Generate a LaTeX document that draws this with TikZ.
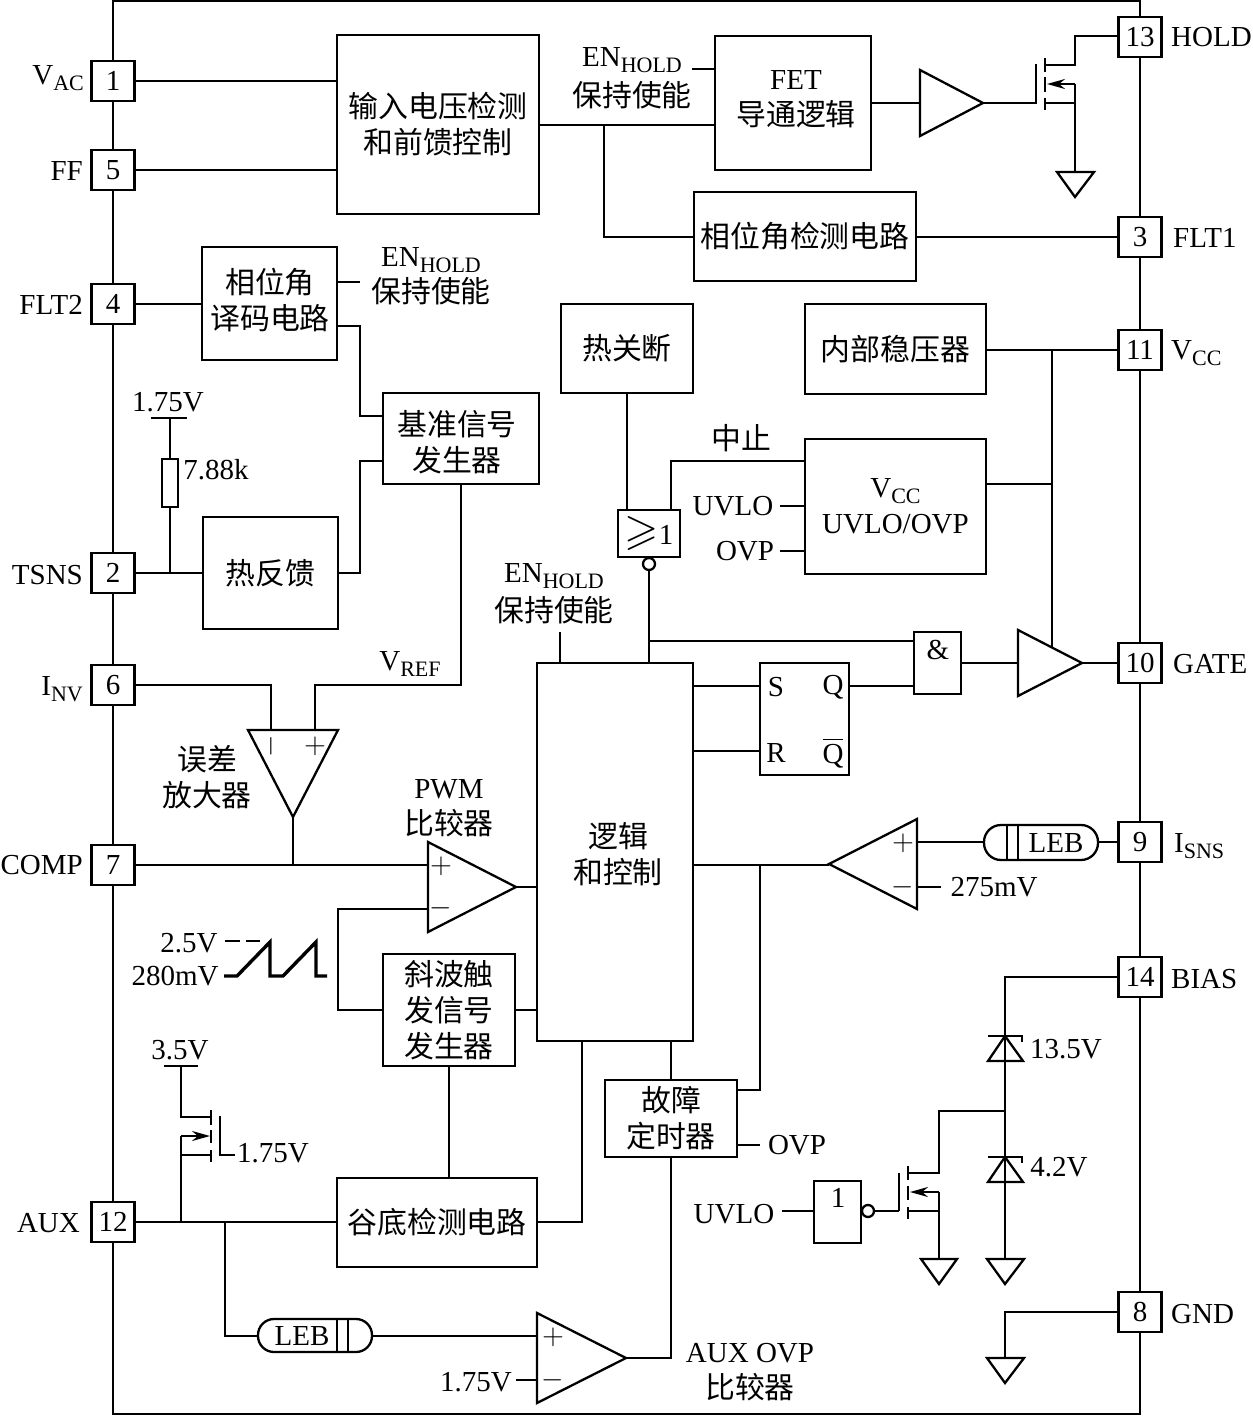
\documentclass[tikz,border=0pt]{standalone}
\usepackage{amsmath}
\usepackage{amssymb}
\usepackage{fontspec}
\usetikzlibrary{arrows.meta}
\setmainfont{Liberation Serif}
\newfontfamily\cjk[Scale=1.03]{Noto Sans CJK SC}
\newcommand{\sbx}[1]{\raisebox{-3pt}{\fontsize{11}{11}\selectfont #1}}
\tikzset{
  txt/.style={font=\fontsize{14.5}{18}\selectfont,align=center,inner sep=0pt},
  box/.style args={#1 by #2}{draw,fill=white,txt,minimum width=#1*0.5pt,minimum height=#2*0.5pt},
  pinbox/.style={box={43 by 40}},
  thin line/.style={line width=0.7pt},
  fat line/.style={line width=1.7pt},
  fet arrow/.style={-{Stealth[length=9pt,width=5pt,inset=3pt]}}
}

\begin{document}
\begin{tikzpicture}[x=0.5pt,y=-0.5pt,line width=1.15pt,every node/.style={txt}]
  \useasboundingbox (0,0) rectangle (1252,1416);
  \draw (113,1) rectangle (1140,1414);

  % pins on the left
  \path (113,81) node[pinbox] (p1) {1};
  \path (113,170) node[pinbox] (p5) {5};
  \path (113,304) node[pinbox] (p4) {4};
  \path (113,573) node[pinbox] (p2) {2};
  \path (113,685) node[pinbox] (p6) {6};
  \path (113,865) node[pinbox] (p7) {7};
  \path (113,1222) node[pinbox] (p12) {12};
  \path (85,85) node[anchor=base east] (lvac) {V\sbx{AC}};
  \path (84,181) node[anchor=base east] (lff) {FF};
  \path (84,315) node[anchor=base east] (lflt2) {FLT2};
  \path (84,584) node[anchor=base east] (ltsns) {TSNS};
  \path (84,695) node[anchor=base east] (linv) {I\sbx{NV}};
  \path (84,874) node[anchor=base east] (lcomp) {COMP};
  \path (81,1232) node[anchor=base east] (laux) {AUX};

  % pins on the right
  \path (1140,37) node[pinbox] (p13) {13};
  \path (1140,237) node[pinbox] (p3) {3};
  \path (1140,350) node[pinbox] (p11) {11};
  \path (1140,663) node[pinbox] (p10) {10};
  \path (1140,842) node[pinbox] (p9) {9};
  \path (1140,977) node[pinbox] (p14) {14};
  \path (1140,1312) node[pinbox] (p8) {8};
  \path (1170,47) node[anchor=base west] (lhold) {HOLD};
  \path (1172,248) node[anchor=base west] (lflt1) {FLT1};
  \path (1170,360) node[anchor=base west] (lvcc) {V\sbx{CC}};
  \path (1172,673) node[anchor=base west] (lgate) {GATE};
  \path (1173,852) node[anchor=base west] (lisns) {I\sbx{SNS}};
  \path (1170,988) node[anchor=base west] (lbias) {BIAS};
  \path (1170,1323) node[anchor=base west] (lgnd) {GND};

  % blocks
  \path (438,124.5) node[box={202 by 179}] (inp) {{\cjk 输入电压检测}\\{\cjk 和前馈控制}};
  \path (793,103) node[box={156 by 134}] (fet) {};
  \path (796,99) node (lfet) {FET\\{\cjk 导通逻辑}};
  \path (805,236.5) node[box={222 by 89}] (phase) {\cjk 相位角检测电路};
  \path (269.5,303.5) node[box={135 by 113}] (dec) {};
  \path (270,300) node (ldec) {{\cjk 相位角}\\{\cjk 译码电路}};
  \path (461,438.5) node[box={156 by 91}] (vref) {};
  \path (457,442) node (lvrefb) {{\cjk 基准信号}\\{\cjk 发生器}};
  \path (270.5,573) node[box={135 by 112}] (fb) {\cjk 热反馈};
  \path (627,348.5) node[box={132 by 89}] (shut) {\cjk 热关断};
  \path (895.5,349) node[box={181 by 90}] (reg) {\cjk 内部稳压器};
  \path (895.5,506.5) node[box={181 by 135}] (uvlo) {V\sbx{CC}\\UVLO/OVP};
  \path (649,533.5) node[box={62 by 47}] (nor) {{\fontsize{22}{22}\selectfont$\geqslant$}1};
  \path (649,564) node[draw,circle,fill=white,minimum size=6pt] (norb) {};
  \path (615,852) node[box={156 by 378}] (logic) {};
  \path (618,854) node (llogic) {{\cjk 逻辑}\\{\cjk 和控制}};
  \path (937.5,663) node[box={47 by 62}] (and) {};
  \path (938,650) node (andl) {\&};
  \path (804.5,719) node[box={89 by 112}] (sr) {};
  \path (776,687) node (ls) {S};
  \path (833,687) node (lq) {Q};
  \path (776,753) node (lr) {R};
  \path (833,753) node (lqb) {$\overline{\mbox{Q}}$};
  \path (449,1010) node[box={132 by 112}] (ramp) {{\cjk 斜波触}\\{\cjk 发信号}\\{\cjk 发生器}};
  \path (671,1118.5) node[box={132 by 77}] (timer) {{\cjk 故障}\\{\cjk 定时器}};
  \path (437,1222.5) node[box={200 by 89}] (valley) {\cjk 谷底检测电路};
  \path (837.5,1212) node[box={47 by 62}] (inv) {};
  \path (838,1198) node (linv1) {1};
  \path (868,1211) node[draw,circle,fill=white,minimum size=6pt] (invb) {};

  % amplifiers
  \draw (920,70) --(983,103) --(920,136) --cycle;
  \coordinate (bufa) at (920,103);
  \coordinate (bufb) at (983,103);
  \draw (1018,630) --(1082,663) --(1018,696) --cycle;
  \coordinate (drva) at (1018,663);
  \coordinate (drvb) at (1082,663);
  \coordinate (drvc) at (1052,647);
  \draw (248,730) --(338,730) --(293,817) --cycle;
  \coordinate (erra) at (271,730);
  \coordinate (errb) at (315,730);
  \coordinate (errc) at (293,817);
  \path (271,746) node[rotate=90] (lerrm) {$-$};
  \path (315,746) node (lerrp) {$+$};
  \draw (428,842) --(516,887) --(428,932) --cycle;
  \coordinate (pwma) at (428,865);
  \coordinate (pwmb) at (428,909);
  \coordinate (pwmc) at (516,887);
  \path (441,866) node (lpwmp) {$+$};
  \path (441,908) node (lpwmm) {$-$};
  \draw (917,819) --(829,864) --(917,909) --cycle;
  \coordinate (csa) at (917,842);
  \coordinate (csb) at (917,887);
  \coordinate (csc) at (829,865);
  \path (903,843) node (lcsp) {$+$};
  \path (903,887) node (lcsm) {$-$};
  \draw (537,1313) --(626,1358) --(537,1403) --cycle;
  \coordinate (ovpa) at (537,1336);
  \coordinate (ovpb) at (537,1380);
  \coordinate (ovpc) at (626,1358);
  \path (553,1337) node (lovpp) {$+$};
  \path (553,1380) node (lovpm) {$-$};

  % LEB blocks
  \path (1041,842.5) node[draw,fill=white,rounded corners=8.5pt,minimum width=57pt,minimum height=17.5pt] (lebr) {};
  \draw[thin line] (1007,825) --(1007,860);
  \draw[thin line] (1018,825) --(1018,860);
  \path (1056,843) node (llebr) {LEB};
  \path (315,1335.5) node[draw,fill=white,rounded corners=8pt,minimum width=57pt,minimum height=16.5pt] (lebl) {};
  \draw[thin line] (337,1319) --(337,1352);
  \draw[thin line] (348,1319) --(348,1352);
  \path (302,1336) node (llebl) {LEB};

  % wires around the input block
  \draw (p1.east) --(inp.west |- p1.east);
  \draw (p5.east) --(inp.west |- p5.east);
  \coordinate (inpo) at (inp.east |- 539,125);
  \coordinate (inpj) at (604,125);
  \draw (inpo) --(fet.west |- inpo);
  \draw (inpj) |- (phase.west |- p3.west);
  \draw (phase.east |- p3.west) --(p3.west);
  \coordinate (enfet) at (692,69);
  \draw (enfet) --(fet.west |- enfet);
  \path (632,78) node (lenfet) {EN\sbx{HOLD}\\[2pt]{\cjk 保持使能}};
  \draw (fet.east) --(bufa);

  % first mosfet
  \coordinate (qag) at (1036,64);
  \coordinate (qad) at (1045,65);
  \coordinate (qas) at (1045,103);
  \coordinate (qaj) at (1075,84);
  \coordinate (qaf) at (1075,172);
  \draw (bufb) --(qag |- bufb) --(qag);
  \draw (1045,58) --(1045,72);
  \draw (1045,77) --(1045,92);
  \draw (1045,98) --(1045,110);
  \draw (qad) -| (1075,36) --(p13.west |- 1075,36);
  \draw (qas) --(1075,103);
  \draw[fet arrow] (qaj) --(1047,84);
  \draw (qaj) --(qaf);
  \draw (1057,172) --(1094,172) --(1075,197) --cycle;

  % reference path
  \draw (p4.east) --(dec.west |- p4.east);
  \coordinate (endec) at (360,282);
  \draw (dec.east |- endec) --(endec);
  \path (431,276) node (lendec) {EN\sbx{HOLD}\\{\cjk 保持使能}};
  \coordinate (deco) at (337,326);
  \coordinate (refa) at (383,416);
  \coordinate (refb) at (383,461);
  \draw (deco) -| (360,416) --(refa);
  \draw (refb) -| (360,573) --(fb.east);
  \draw (p2.east) --(fb.west);
  \coordinate (rj) at (170,573);
  \path (170,483) node[draw,minimum width=8pt,minimum height=24pt] (rt) {};
  \coordinate (rtop) at (170,418);
  \draw (rj) --(rt.south);
  \draw (rt.north) --(rtop);
  \draw (151,418) --(187,418);
  \path (168,402) node (lvtop) {1.75V};
  \path (216,470) node (lrt) {7.88k};

  % error amp and pwm comparator
  \draw (p6.east) -| (erra);
  \draw (vref.south) |- (errb |- 461,685) --(errb);
  \path (410,664) node (lvref) {V\sbx{REF}};
  \path (207,777) node (lerr) {{\cjk 误差}\\{\cjk 放大器}};
  \draw (errc) --(293,865);
  \draw (p7.east) --(pwma);
  \path (449,808) node (lpwm) {PWM\\{\cjk 比较器}};
  \draw (pwmc) --(logic.west |- pwmc);
  \draw (pwmb) -| (338,1010) --(ramp.west);
  \draw (ramp.east) --(logic.west |- ramp.east);
  \draw (ramp.south) --(valley.north -| ramp.south);

  % ramp waveform
  \path (189,943) node (lramph) {2.5V};
  \path (175,976) node (lrampl) {280mV};
  \draw[thin line] (225,941) --(240,941);
  \draw[thin line] (246,941) --(260,941);
  \draw[fat line] (224,976) --(237,976) --(270,942) --(270,976) --(283,976) --(316,942) --(316,976) --(327,976);

  % thermal shutdown and vcc
  \draw (shut.south) --(nor.north -| shut.south);
  \coordinate (nori) at (671,510);
  \draw (uvlo.west |- 671,461) -| (nori);
  \path (741,438) node (lstop) {\cjk 中止};
  \coordinate (uvi) at (780,506);
  \coordinate (ovi) at (780,551);
  \draw (uvi) --(uvlo.west |- uvi);
  \draw (ovi) --(uvlo.west |- ovi);
  \path (733,506) node (luvlo) {UVLO};
  \path (745,551) node (lovp) {OVP};
  \draw (reg.east |- p11.west) --(p11.west);
  \coordinate (vccj) at (1052,350);
  \draw (vccj) --(drvc);
  \draw (uvlo.east |- 1052,484) --(1052,484);

  % logic outputs
  \coordinate (en) at (560,632);
  \draw (en) --(logic.north -| en);
  \path (554,594) node (len) {EN\sbx{HOLD}\\[1.5pt]{\cjk 保持使能}};
  \draw (norb.south) --(logic.north -| norb.south);
  \draw (649,641) --(and.west |- 649,641);
  \draw (logic.east |- 693,686) --(sr.west |- 693,686);
  \draw (logic.east |- 693,751) --(sr.west |- 693,751);
  \draw (sr.east |- 849,686) --(and.west |- 849,686);
  \draw (and.east) --(drva);
  \draw (drvb) --(p10.west);

  % current sense
  \draw (p9.west) --(lebr.east |- p9.west);
  \draw (lebr.west |- csa) --(csa);
  \coordinate (csv) at (941,887);
  \draw (csb) --(csv);
  \path (994,887) node (lcsv) {275mV};
  \draw (logic.east |- csc) --(csc);

  % fault timer
  \coordinate (tmj) at (760,865);
  \draw (timer.east |- 737,1090) -| (tmj);
  \coordinate (tmo) at (760,1145);
  \draw (timer.east |- tmo) --(tmo);
  \path (797,1145) node (ltmo) {OVP};
  \draw (logic.south -| timer.north) --(timer.north);
  \draw (timer.south) |- (ovpc);
  \path (750,1372) node (laovp) {AUX OVP\\{\cjk 比较器}};

  % aux path
  \draw (p12.east) --(valley.west |- p12.east);
  \draw (valley.east |- p12.east) -| (582,1041);
  \coordinate (auxj) at (225,1222);
  \draw (auxj) |- (lebl.west |- ovpa);
  \draw (lebl.east |- ovpa) --(ovpa);
  \coordinate (ovpv) at (516,1380);
  \draw (ovpv) --(ovpb);
  \path (476,1382) node (lovpv) {1.75V};

  % clamp mosfet on aux
  \coordinate (qbj) at (181,1222);
  \coordinate (qbs) at (211,1155);
  \coordinate (qbd) at (211,1117);
  \coordinate (qbt) at (181,1066);
  \draw (qbj) --(181,1136);
  \draw (181,1155) --(qbs);
  \draw[fet arrow] (181,1136) --(210,1136);
  \draw (qbd) -| (qbt);
  \draw (164,1066) --(198,1066);
  \draw (211,1110) --(211,1125);
  \draw (211,1130) --(211,1143);
  \draw (211,1150) --(211,1162);
  \draw (220,1116) --(220,1155) --(235,1155);
  \path (180,1050) node (lqbv) {3.5V};
  \path (273,1153) node (lqbg) {1.75V};

  % bias clamp
  \coordinate (zt) at (1005,977);
  \coordinate (zb) at (1005,1259);
  \coordinate (zj) at (1005,1111);
  \draw (p14.west) --(zt) --(zb);
  \draw (988,1036) --(1022,1036) --(1022,1042);
  \draw (1005,1036) --(988,1061) --(1023,1061) --cycle;
  \draw (988,1157) --(1022,1157) --(1022,1163);
  \draw (1005,1157) --(988,1182) --(1023,1182) --cycle;
  \path (1066,1049) node (lza) {13.5V};
  \path (1059,1167) node (lzb) {4.2V};
  \draw (987,1259) --(1024,1259) --(1005,1284) --cycle;

  % second mosfet
  \coordinate (qcd) at (939,1173);
  \coordinate (qcf) at (939,1259);
  \coordinate (qcg) at (899,1211);
  \coordinate (ini) at (782,1211);
  \draw (zj) -| (qcd) --(908,1173);
  \draw (908,1166) --(908,1180);
  \draw (908,1186) --(908,1200);
  \draw (908,1207) --(908,1219);
  \draw (899,1173) --(qcg);
  \draw[fet arrow] (939,1192) --(910,1192);
  \draw (939,1192) --(qcf);
  \draw (908,1211) --(939,1211);
  \draw (invb.east) --(qcg);
  \draw (ini) --(inv.west |- ini);
  \path (734,1214) node (lini) {UVLO};
  \draw (921,1259) --(957,1259) --(939,1284) --cycle;

  % gnd pin
  \coordinate (gf) at (1005,1358);
  \draw (p8.west) -| (gf);
  \draw (987,1358) --(1024,1358) --(1005,1383) --cycle;
\end{tikzpicture}
\end{document}
